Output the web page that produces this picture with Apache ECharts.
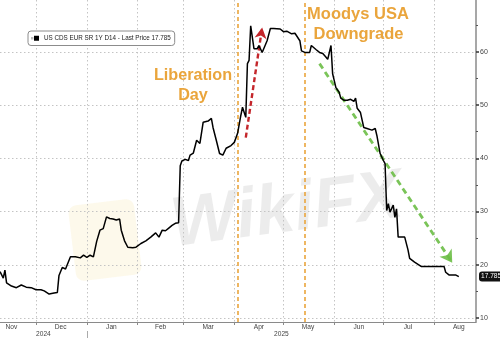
<!DOCTYPE html>
<html><head><meta charset="utf-8">
<script src="https://cdn.jsdelivr.net/npm/echarts@6/dist/echarts.min.js"></script>
<style>html,body{margin:0;padding:0;background:#fff}#c{width:500px;height:338px}</style>
</head><body><div id="c"></div>
<script>
// ---- data ----
const dates = [
'2024-11-09','2024-11-10','2024-11-11','2024-11-12','2024-11-13','2024-11-16','2024-11-19','2024-11-22','2024-11-25','2024-11-28',
'2024-12-01','2024-12-04','2024-12-06','2024-12-09','2024-12-12','2024-12-14','2024-12-15','2024-12-17','2024-12-19','2024-12-20',
'2024-12-22','2024-12-25','2024-12-28','2024-12-30','2025-01-01','2025-01-03','2025-01-05','2025-01-07','2025-01-09','2025-01-11',
'2025-01-13','2025-01-15','2025-01-17','2025-01-19','2025-01-21','2025-01-22','2025-01-24','2025-01-26','2025-01-29','2025-01-31',
'2025-02-03','2025-02-06','2025-02-09','2025-02-10','2025-02-12','2025-02-14','2025-02-16','2025-02-18','2025-02-20','2025-02-22',
'2025-02-24','2025-02-26','2025-02-27','2025-02-28','2025-03-02','2025-03-04','2025-03-05','2025-03-07','2025-03-09','2025-03-11',
'2025-03-13','2025-03-16','2025-03-18','2025-03-19','2025-03-21','2025-03-23','2025-03-25','2025-03-27','2025-03-30','2025-04-01',
'2025-04-03','2025-04-05','2025-04-06','2025-04-08','2025-04-09','2025-04-10','2025-04-11','2025-04-13','2025-04-15','2025-04-16',
'2025-04-18','2025-04-21','2025-04-23','2025-04-25','2025-04-29','2025-05-01','2025-05-03','2025-05-06','2025-05-08','2025-05-09',
'2025-05-11','2025-05-12','2025-05-14','2025-05-15','2025-05-17','2025-05-18','2025-05-21','2025-05-23','2025-05-25','2025-05-27',
'2025-05-28','2025-05-29','2025-05-30','2025-05-31','2025-06-01','2025-06-02','2025-06-04','2025-06-05','2025-06-07','2025-06-09',
'2025-06-11','2025-06-13','2025-06-14','2025-06-15','2025-06-17','2025-06-19','2025-06-21','2025-06-24','2025-06-26','2025-06-27',
'2025-06-29','2025-07-01','2025-07-02','2025-07-03','2025-07-04','2025-07-05','2025-07-07','2025-07-08','2025-07-09','2025-07-10',
'2025-07-14','2025-07-16','2025-07-17','2025-07-20','2025-07-24','2025-08-07','2025-08-08','2025-08-10','2025-08-11','2025-08-14',
'2025-08-16'
];
const values = [
18.7,18.6,17.5,19.0,16.6,16.0,15.7,16.2,15.8,15.7,
15.3,15.3,15.1,14.5,14.7,14.8,18.0,19.5,19.2,19.0,
21.5,21.5,21.3,21.8,21.4,21.8,21.5,24.4,26.5,26.8,
29.0,28.7,28.6,28.4,28.6,26.5,24.5,23.3,23.2,23.3,
24.0,24.5,25.2,25.4,26.0,25.2,26.5,26.4,26.9,27.4,
27.8,27.9,38.6,39.5,39.8,39.6,40.6,41.0,43.4,42.8,
46.8,47.0,47.5,45.8,43.4,40.9,40.6,41.9,42.4,43.0,
44.7,48.1,49.6,47.7,57.8,58.4,64.9,60.6,60.6,61.2,
59.9,62.1,64.4,64.4,64.3,63.8,63.9,63.4,63.5,63.3,
62.1,60.2,59.9,60.2,59.9,61.2,60.4,59.9,59.7,59.0,
58.6,58.3,61.2,55.9,54.6,53.3,52.4,51.3,50.9,50.9,
51.1,50.7,51.3,49.4,48.6,45.8,45.6,45.3,45.6,44.3,
40.9,39.6,39.0,30.2,31.5,29.9,31.2,28.9,30.5,25.2,
25.2,22.8,21.2,20.5,19.7,19.7,18.6,18.1,18.3,18.1,
17.785
];
const seriesName = 'US CDS EUR SR 1Y D14 - Last Price 17.785';
const lastPrice = 17.785;
const xRange = ['2024-11-09', '2025-08-26T12:00:00'];
const monthBoundaries = ['2024-12-01','2025-01-01','2025-02-01','2025-03-01','2025-04-01','2025-05-01','2025-06-01','2025-07-01','2025-08-01'];
const monthLabelDates = ['2024-11-16','2024-12-16','2025-01-16','2025-02-15','2025-03-16','2025-04-16','2025-05-16','2025-06-16','2025-07-16','2025-08-16'];
const monthNames = ['Jan','Feb','Mar','Apr','May','Jun','Jul','Aug','Sep','Oct','Nov','Dec'];
const yearBoundary = '2025-01-01';
const yTicks = [10, 20, 30, 40, 50, 60];
const yMinorTicks = [15, 25, 35, 45, 55, 65];
const yRange = [9.25, 69.75];
const eventDates = ['2025-04-03', '2025-05-14'];
const eventTitles = [['Liberation', 'Day'], ['Moodys USA', 'Downgrade']];
const redArrow = [['2025-04-08', 43.9], ['2025-04-18', 64.6]];
const greenArrow = [['2025-05-23', 57.8], ['2025-08-12', 20.4]];

// ---- build ----
const t = s => Date.parse(s.length > 10 ? s + 'Z' : s + 'T00:00:00Z');
const xMin = t(xRange[0]), xMax = t(xRange[1]);
const yb = t(yearBoundary);
const yearMids = [(xMin + yb) / 2, (yb + xMax) / 2];
const seriesData = dates.map((d, i) => [t(d), values[i]]);
const FONT = '"Liberation Sans", Arial, sans-serif';
const ORANGE = '#EAA53C';

const chart = echarts.init(document.getElementById('c'), null, {renderer: 'canvas'});
const axisGray = '#8a8a8a';
const split = {show: true, lineStyle: {color: '#c4c4c4', type: [1.5, 2.5], width: 1}};

chart.setOption({
  animation: false,
  backgroundColor: '#fff',
  grid: {left: 0, right: 24, top: 0, bottom: 16, containLabel: false},
  legend: {
    show: true, left: 28, top: 31, orient: 'horizontal',
    data: [{name: seriesName, icon: 'rect'}],
    itemWidth: 5, itemHeight: 5,
    padding: [3, 4, 3, 6],
    borderColor: '#8c8c8c', borderWidth: 1, borderRadius: 3,
    backgroundColor: '#fff',
    textStyle: {fontFamily: FONT, fontSize: 6.3, color: '#222', lineHeight: 8.5},
    selectedMode: false
  },
  xAxis: [{
    type: 'value', min: xMin, max: xMax, position: 'bottom', scale: true,
    axisLine: {show: true, onZero: false, lineStyle: {color: axisGray, width: 1.2}},
    axisTick: {show: true, customValues: monthBoundaries.map(t), length: 3, lineStyle: {color: axisGray}},
    axisLabel: {show: true, customValues: monthLabelDates.map(t), fontFamily: FONT, fontSize: 6.6, color: '#444', margin: 1.5,
      formatter: v => monthNames[new Date(v).getUTCMonth()]},
    splitLine: split
  }, {
    type: 'value', min: xMin, max: xMax, position: 'bottom', offset: 9, scale: true,
    axisLine: {show: false, onZero: false},
    axisTick: {show: true, customValues: [yb], length: 7, lineStyle: {color: '#aaa'}},
    axisLabel: {show: true, customValues: yearMids, fontFamily: FONT, fontSize: 6.6, color: '#444', margin: 0,
      formatter: v => String(new Date(v).getUTCFullYear())},
    splitLine: {show: false}
  }],
  yAxis: [{
    type: 'value', position: 'right', min: yRange[0], max: yRange[1], scale: true,
    axisLine: {show: true, onZero: false, lineStyle: {color: axisGray, width: 1.5}},
    axisTick: {show: true, customValues: yTicks, length: 3, lineStyle: {color: '#333', width: 1.5}},
    axisLabel: {show: true, customValues: yTicks, fontFamily: FONT, fontSize: 7, color: '#444', margin: 4},
    splitLine: split
  }, {
    type: 'value', position: 'right', min: yRange[0], max: yRange[1], scale: true,
    axisLine: {show: false, onZero: false},
    axisTick: {show: true, customValues: yMinorTicks, length: 2, lineStyle: {color: '#555', width: 1}},
    axisLabel: {show: false}, splitLine: {show: false}
  }],
  series: [{
    name: seriesName, type: 'line', xAxisIndex: 0, yAxisIndex: 0,
    data: seriesData, showSymbol: false, symbol: 'none',
    lineStyle: {color: '#000', width: 1.5}, itemStyle: {color: '#000'},
    z: 5,
    markLine: {
      silent: true, symbol: 'none', animation: false,
      label: {show: false},
      data: [
        ...eventDates.map(d => ({xAxis: t(d), lineStyle: {color: ORANGE, type: [4, 3], width: 1.6}, label: {show: false}})),
        [{coord: [t(redArrow[0][0]), redArrow[0][1]], symbol: 'none', lineStyle: {color: '#C4262B', type: [5, 3], width: 2.4}},
         {coord: [t(redArrow[1][0]), redArrow[1][1]], symbol: 'arrow', symbolSize: [9, 11]}],
        [{coord: [t(greenArrow[0][0]), greenArrow[0][1]], symbol: 'none', lineStyle: {color: 'rgba(108,190,70,0.9)', type: [6, 4], width: 2.8}},
         {coord: [t(greenArrow[1][0]), greenArrow[1][1]], symbol: 'arrow', symbolSize: [11, 12]}]
      ]
    }
  }, {
    name: 'last', type: 'line', xAxisIndex: 0, yAxisIndex: 0, data: [], z: 6,
    markLine: {
      silent: true, symbol: 'none', animation: false,
      data: [{yAxis: lastPrice}],
      lineStyle: {color: 'rgba(0,0,0,0)', width: 1},
      label: {show: true, position: 'end', distance: 3, formatter: String(lastPrice), color: '#fff',
        backgroundColor: '#111', borderRadius: 3, padding: [2, 2, 1, 2], fontFamily: FONT, fontSize: 6.6}
    }
  }],
  graphic: [
    {type: 'rect', x: 105, y: 240, rotation: 0.12, z: 0, silent: true,
     shape: {x: -33, y: -38, width: 66, height: 76, r: 8}, style: {fill: 'rgba(240,212,120,0.15)'}},
    {type: 'text', x: 287, y: 212, rotation: 0.13, z: 0, silent: true,
     style: {text: 'WikiFX', fill: 'rgba(0,0,0,0.075)', font: 'italic bold 70px ' + FONT, align: 'center', verticalAlign: 'middle'}},
    {type: 'rect', x: 31, y: 37, z: 10, silent: true, shape: {x: 0, y: 0, width: 2.5, height: 2.5}, style: {fill: '#bbb'}},
    {type: 'text', x: 193, y: 75.5, z: 10, style: {text: eventTitles[0][0], fill: ORANGE, font: 'bold 16.2px ' + FONT, align: 'center', verticalAlign: 'middle'}},
    {type: 'text', x: 193, y: 96, z: 10, style: {text: eventTitles[0][1], fill: ORANGE, font: 'bold 16.2px ' + FONT, align: 'center', verticalAlign: 'middle'}},
    {type: 'text', x: 358, y: 14, z: 10, style: {text: eventTitles[1][0], fill: ORANGE, font: 'bold 16.5px ' + FONT, align: 'center', verticalAlign: 'middle'}},
    {type: 'text', x: 358.5, y: 34, z: 10, style: {text: eventTitles[1][1], fill: ORANGE, font: 'bold 16.5px ' + FONT, align: 'center', verticalAlign: 'middle'}}
  ]
});
</script>
</body></html>
